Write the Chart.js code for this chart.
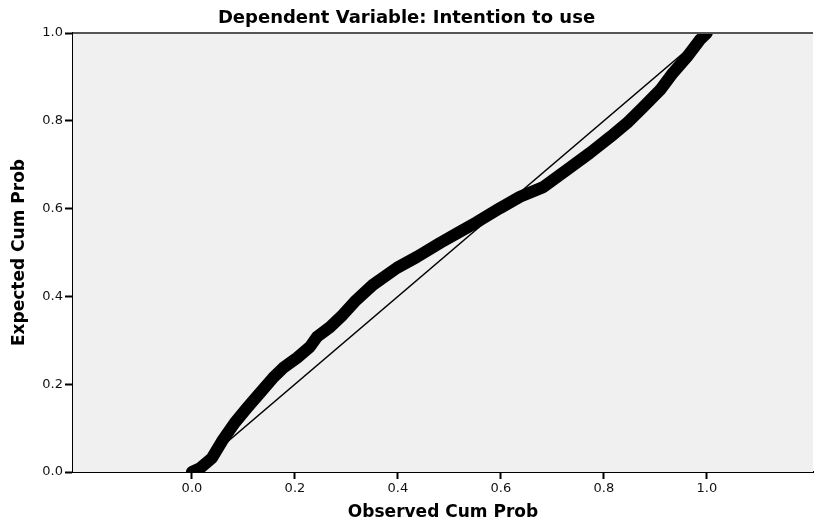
<!DOCTYPE html>
<html>
<head>
<meta charset="utf-8">
<script src="https://cdn.jsdelivr.net/npm/chart.js@4.4.1/dist/chart.umd.min.js"></script>
<style>
  html, body { margin: 0; padding: 0; background: #fff; }
  #wrap { width: 814px; height: 525px; }
</style>
</head>
<body>
<div id="wrap"><canvas id="pp"></canvas></div>
<script>
// observed vs expected cumulative probability
const observedCum = [0, 0.016, 0.039, 0.060, 0.083, 0.107, 0.132, 0.157, 0.177, 0.204,
  0.229, 0.243, 0.268, 0.293, 0.316, 0.351, 0.398, 0.437, 0.482, 0.515,
  0.553, 0.598, 0.637, 0.682, 0.728, 0.773, 0.812, 0.845, 0.876, 0.909,
  0.934, 0.961, 0.986, 1.0];
const expectedCum = [0, 0.009, 0.032, 0.073, 0.112, 0.146, 0.180, 0.214, 0.237, 0.260,
  0.285, 0.308, 0.330, 0.358, 0.388, 0.426, 0.465, 0.490, 0.522, 0.544,
  0.569, 0.601, 0.627, 0.649, 0.688, 0.727, 0.763, 0.795, 0.831, 0.870,
  0.909, 0.945, 0.984, 1.0];
const refLine = [0, 1];
const xTicks = [0, 0.2, 0.4, 0.6, 0.8, 1.0];
const yTicks = [0, 0.2, 0.4, 0.6, 0.8, 1.0];

const chartTitle = "Dependent Variable: Intention to use";
const xTitle = "Observed Cum Prob";
const yTitle = "Expected Cum Prob";

// grey plot background + dark line along the top of the plot
const plotFrame = {
  id: "plotFrame",
  beforeDatasetsDraw(chart) {
    const { ctx, chartArea: a } = chart;
    ctx.save();
    ctx.fillStyle = "#f0f0f0";
    ctx.fillRect(a.left, a.top, a.right - a.left, a.bottom - a.top);
    ctx.restore();
  },
  afterDraw(chart) {
    const { ctx, chartArea: a } = chart;
    ctx.save();
    ctx.strokeStyle = "#555";
    ctx.lineWidth = 2;
    ctx.beginPath();
    ctx.moveTo(a.left, a.top);
    ctx.lineTo(a.right, a.top);
    ctx.stroke();
    ctx.restore();
  }
};

const tickFont = { family: "DejaVu Sans", size: 13 };
const titleFont = { family: "DejaVu Sans", size: 17, weight: "bold" };

new Chart(document.getElementById("pp"), {
  type: "scatter",
  data: {
    datasets: [
      {
        data: observedCum.map((x, i) => ({ x: x, y: expectedCum[i] })),
        showLine: true,
        borderColor: "#000",
        backgroundColor: "#000",
        borderWidth: 12,
        borderCapStyle: "round",
        borderJoinStyle: "round",
        pointRadius: 0,
        clip: 0,
      },
      {
        data: refLine.map(v => ({ x: v, y: v })),
        showLine: true,
        borderColor: "#000",
        borderWidth: 1.5,
        pointRadius: 0,
        clip: 0,
      },
    ],
  },
  plugins: [plotFrame],
  options: {
    responsive: true,
    maintainAspectRatio: false,
    animation: false,
    layout: { padding: { top: 0, right: 1, bottom: 0, left: 0 } },
    plugins: {
      legend: { display: false },
      tooltip: { enabled: false },
      title: {
        display: true,
        text: chartTitle,
        color: "#000",
        font: { family: "DejaVu Sans", size: 18, weight: "bold" },
        padding: { top: 8, bottom: 3.4 },
      },
    },
    scales: {
      x: {
        type: "linear",
        min: -0.231,
        max: 1.206,
        afterBuildTicks: (scale) => { scale.ticks = xTicks.map(v => ({ value: v })); },
        afterFit: (scale) => { scale.height = 53; },
        ticks: {
          color: "#111",
          font: tickFont,
          padding: 2,
          maxRotation: 0,
          callback: (v) => Number(v).toFixed(1),
        },
        grid: { drawOnChartArea: false, drawTicks: true, tickLength: 7, tickWidth: 2, tickColor: "#000" },
        border: { display: true, color: "#000", width: 2 },
        title: { display: true, text: xTitle, color: "#000", font: titleFont, padding: { top: 0, bottom: 1.8 } },
      },
      y: {
        type: "linear",
        min: 0,
        max: 1,
        afterBuildTicks: (scale) => { scale.ticks = yTicks.map(v => ({ value: v })); },
        afterFit: (scale) => { scale.width = 73; },
        ticks: {
          color: "#111",
          font: tickFont,
          padding: 2,
          callback: (v) => Number(v).toFixed(1),
        },
        grid: { drawOnChartArea: false, drawTicks: true, tickLength: 8, tickWidth: 2, tickColor: "#000" },
        border: { display: true, color: "#000", width: 2 },
        title: { display: true, text: yTitle, color: "#000", font: titleFont, padding: { top: 9.8, bottom: 0 } },
      },
    },
  },
});
</script>
</body>
</html>
